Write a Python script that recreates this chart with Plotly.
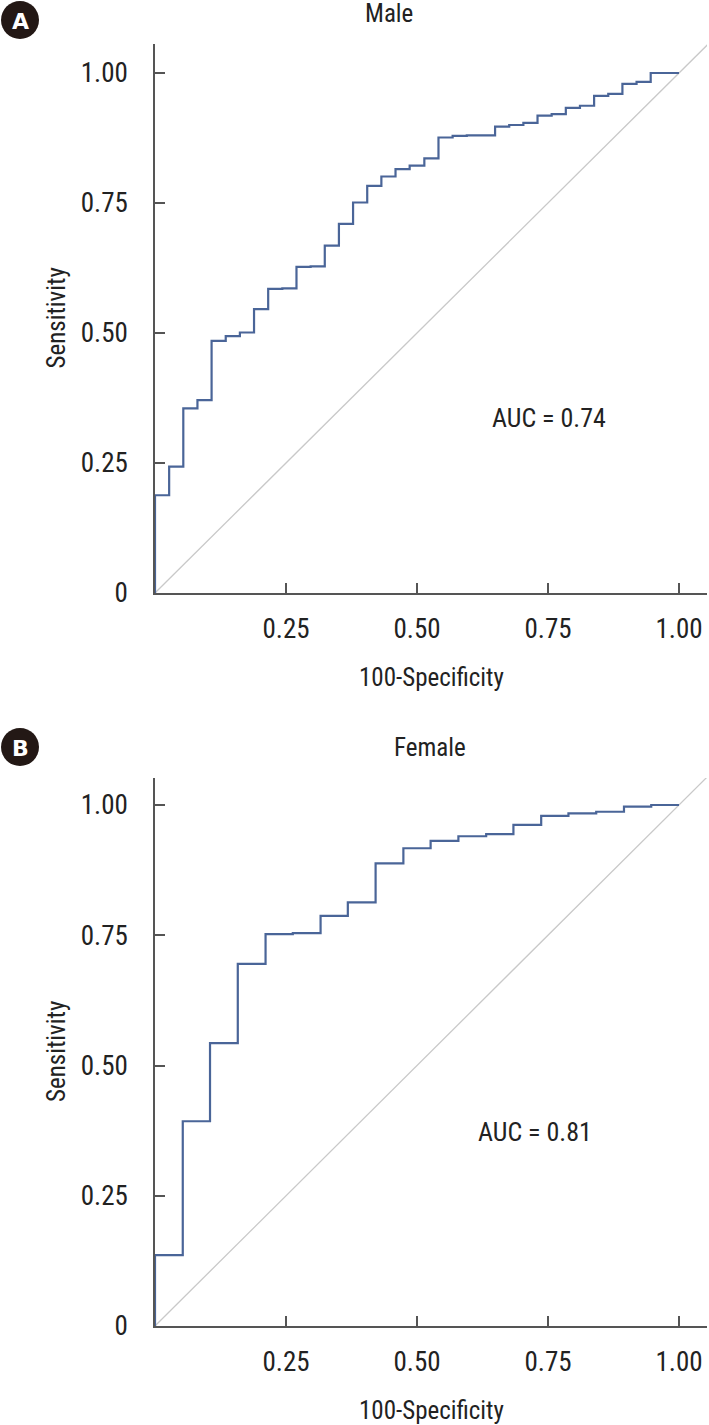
import plotly.graph_objects as go

# ---- Data ----
male_fpr = [0.0, 0.0, 0.027, 0.054, 0.081, 0.108, 0.135, 0.162, 0.189, 0.216, 0.243,
            0.270, 0.297, 0.324, 0.351, 0.378, 0.405, 0.432, 0.459, 0.486, 0.514,
            0.541, 0.568, 0.595, 0.649, 0.676, 0.703, 0.730, 0.757, 0.784, 0.811,
            0.838, 0.865, 0.892, 0.919, 0.946, 1.0]
male_tpr = [0.0, 0.188, 0.243, 0.355, 0.371, 0.485, 0.494, 0.501, 0.546, 0.585, 0.586,
            0.627, 0.628, 0.668, 0.710, 0.751, 0.783, 0.801, 0.815, 0.822, 0.836,
            0.876, 0.879, 0.880, 0.897, 0.900, 0.904, 0.918, 0.921, 0.933, 0.937,
            0.956, 0.960, 0.979, 0.983, 1.0, 1.0]

female_fpr = [0.0, 0.0, 0.053, 0.105, 0.158, 0.211, 0.263, 0.316, 0.368, 0.421, 0.474,
              0.526, 0.579, 0.632, 0.684, 0.737, 0.789, 0.842, 0.895, 0.947, 1.0]
female_tpr = [0.0, 0.136, 0.393, 0.543, 0.695, 0.752, 0.754, 0.787, 0.813, 0.888, 0.917,
              0.931, 0.940, 0.944, 0.962, 0.979, 0.984, 0.987, 0.997, 1.0, 1.0]

ref_line = [0.0, 1.1]
panel_titles = ["Male", "Female"]
auc_labels = ["AUC = 0.74", "AUC = 0.81"]
x_title = "100-Specificity"
y_title = "Sensitivity"
x_ticks = [0.25, 0.50, 0.75, 1.00]
x_tick_text = ["0.25", "0.50", "0.75", "1.00"]
y_ticks = [0, 0.25, 0.50, 0.75, 1.00]
y_tick_text = ["0", "0.25", "0.50", "0.75", "1.00"]

W, H = 709, 1425
FONT = "Liberation Sans Narrow, Roboto Condensed, DejaVu Sans Condensed, Roboto, sans-serif"
TXT = "#222222"
CURVE = "#4a6598"
DIAG = "#c9c9c9"
AXC = "#555555"

def py(px):
    return 1 - px / H

def pxx(px):
    return px / W

fig = go.Figure()

panels = [
    dict(fpr=male_fpr, tpr=male_tpr, xa="x", ya="y", top=44, bot=593, unit=520),
    dict(fpr=female_fpr, tpr=female_tpr, xa="x2", ya="y2", top=778, bot=1326, unit=521),
]

for p in panels:
    fig.add_trace(go.Scatter(x=ref_line, y=ref_line, mode="lines",
                             line=dict(color=DIAG, width=1.3),
                             xaxis=p["xa"], yaxis=p["ya"], showlegend=False,
                             hoverinfo="skip"))
    fig.add_trace(go.Scatter(x=p["fpr"], y=p["tpr"], mode="lines",
                             line=dict(color=CURVE, width=2.2, shape="hv"),
                             xaxis=p["xa"], yaxis=p["ya"], showlegend=False))

xdom = [pxx(155), pxx(707)]
xrange_ = [0, (707 - 155) / 524]

common_x = dict(range=xrange_, domain=xdom, showgrid=False, zeroline=False,
                automargin=False,
                showline=True, linecolor=AXC, linewidth=1.6,
                ticks="inside", ticklen=10, tickwidth=1.6, tickcolor=AXC,
                tickvals=x_ticks, ticktext=x_tick_text,
                tickfont=dict(family=FONT, size=27, color=TXT),
                ticklabelstandoff=11)
common_y = dict(showgrid=False, zeroline=False, automargin=False,
                showline=True, linecolor=AXC, linewidth=1.6,
                ticks="inside", ticklen=10, tickwidth=1.6, tickcolor=AXC,
                tickvals=y_ticks, ticktext=y_tick_text,
                tickfont=dict(family=FONT, size=27, color=TXT),
                ticklabelstandoff=20)

layout_axes = {}
for i, p in enumerate(panels):
    sfx = "" if i == 0 else str(i + 1)
    layout_axes["xaxis" + sfx] = dict(common_x, anchor="y" + sfx)
    layout_axes["yaxis" + sfx] = dict(common_y, anchor="x" + sfx,
                                      domain=[py(p["bot"]), py(p["top"])],
                                      range=[0, (p["bot"] - p["top"]) / p["unit"]])

fig.update_layout(width=W, height=H, margin=dict(l=0, r=0, t=0, b=0, autoexpand=False),
                  paper_bgcolor="white", plot_bgcolor="white", **layout_axes)

annots = []
title_pos = [(389, 14), (430, 747)]
auc_pos = [(549, 418), (535, 1132)]

def ann(text, x, y, size, **kw):
    d = dict(text=text, x=pxx(x), y=py(y), xref="paper", yref="paper",
             xanchor="center", yanchor="middle", showarrow=False,
             font=dict(family=kw.pop("family", FONT), size=size, color=kw.pop("color", TXT)))
    d.update(kw)
    return d

for i, p in enumerate(panels):
    annots.append(ann(panel_titles[i], title_pos[i][0], title_pos[i][1], 25))
    annots.append(ann(auc_labels[i], auc_pos[i][0], auc_pos[i][1], 26))
    annots.append(ann(y_title, 56, (p["top"] + p["bot"]) / 2, 25, textangle=-90))
    annots.append(ann(x_title, 431, p["bot"] + 84, 25))

shapes = []
for letter, cy in [("A", 20), ("B", 747)]:
    shapes.append(dict(type="circle", xref="paper", yref="paper",
                       x0=pxx(1), x1=pxx(39), y0=py(cy + 19), y1=py(cy - 19),
                       fillcolor="#231815", line=dict(width=0), layer="below"))
    annots.append(ann("<b>" + letter + "</b>", 20, cy + 1, 22,
                      family="DejaVu Sans, Arial", color="white"))

fig.update_layout(annotations=annots, shapes=shapes)

fig.write_html("out.html", config={"displayModeBar": False},
               post_script="document.body.style.margin='0';document.body.style.padding='0';")
